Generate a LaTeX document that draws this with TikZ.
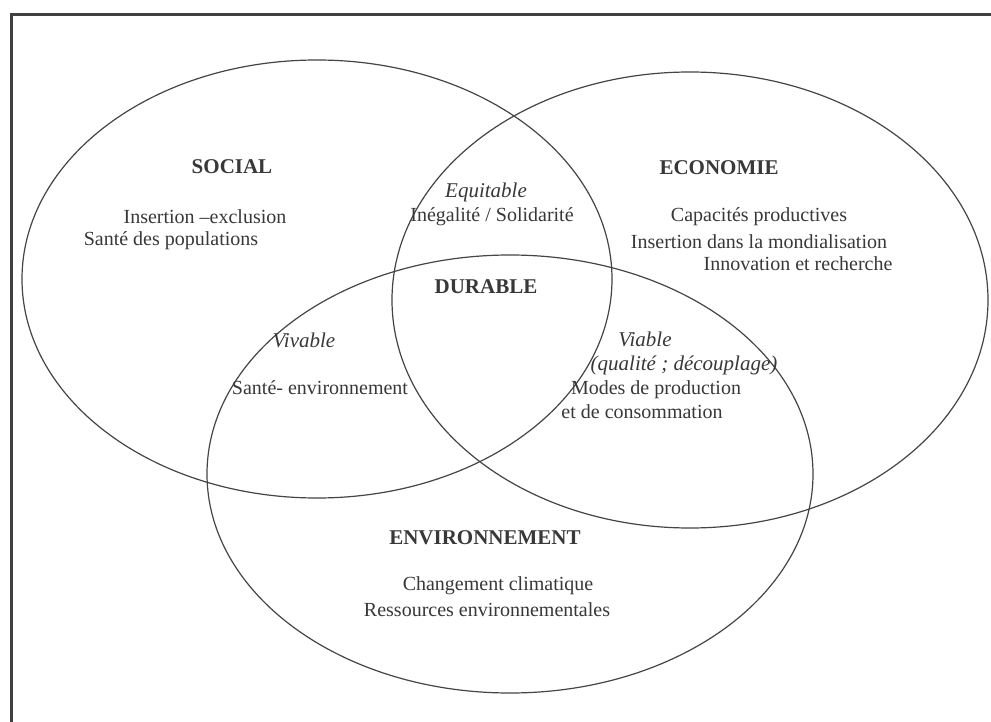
\documentclass[tikz,border=0pt]{standalone}
\usepackage{fontspec}
\setmainfont{Liberation Serif}
\begin{document}
\begin{tikzpicture}[x=1pt,y=-1pt,
  lbl/.style={anchor=center, inner sep=0pt, text=txtcol, font=\fontsize{20}{24}\selectfont},
  ital/.style={lbl, font=\fontsize{21}{24}\selectfont\itshape},
  ttl/.style={lbl, font=\fontsize{21}{24}\selectfont\bfseries},
  ring/.style={draw=linecol, line width=1.2pt}]
\definecolor{txtcol}{HTML}{383838}
\definecolor{linecol}{HTML}{454545}
\definecolor{framecol}{HTML}{404040}
\useasboundingbox (0,0) rectangle (991,722);
\clip (0,0) rectangle (991,722);
\fill[white] (0,0) rectangle (991,722);
% frame
\draw[framecol, line width=3pt] (11,760) -- (11,14.5) -- (1010,14.5);
% circles
\draw[ring] (317,279) ellipse [x radius=295pt, y radius=219pt];
\draw[ring] (690,300) ellipse [x radius=298pt, y radius=228pt];
\draw[ring] (510,474) ellipse [x radius=303pt, y radius=219pt];
% texts
\node[ttl] (social) at (232,167) {SOCIAL};
\node[lbl] (s1) at (205,217) {Insertion –exclusion};
\node[lbl] (s2) at (171,241) {Santé des populations};
\node[ital] (equit) at (486,192) {Equitable};
\node[lbl] (ineg) at (492,217) {Inégalité / Solidarité};
\node[ttl] (eco) at (719,168) {ECONOMIE};
\node[lbl] (e1) at (759,217) {Capacités productives};
\node[lbl] (e2) at (759,242) {Insertion dans la mondialisation};
\node[lbl] (e3) at (798,264) {Innovation et recherche};
\node[ttl] (durable) at (486,287) {DURABLE};
\node[ital] (vivable) at (304,340) {Vivable};
\node[lbl] (sante) at (320,388) {Santé- environnement};
\node[ital] (viable) at (645,339) {Viable};
\node[ital] (qual) at (684,365) {(qualité ; découplage)};
\node[lbl] (modes) at (656,390) {Modes de production};
\node[lbl] (conso) at (642,412) {et de consommation};
\node[ttl] (env) at (485,538) {ENVIRONNEMENT};
\node[lbl] (c1) at (498,586) {Changement climatique};
\node[lbl] (c2) at (487,610) {Ressources environnementales};
\end{tikzpicture}
\end{document}
